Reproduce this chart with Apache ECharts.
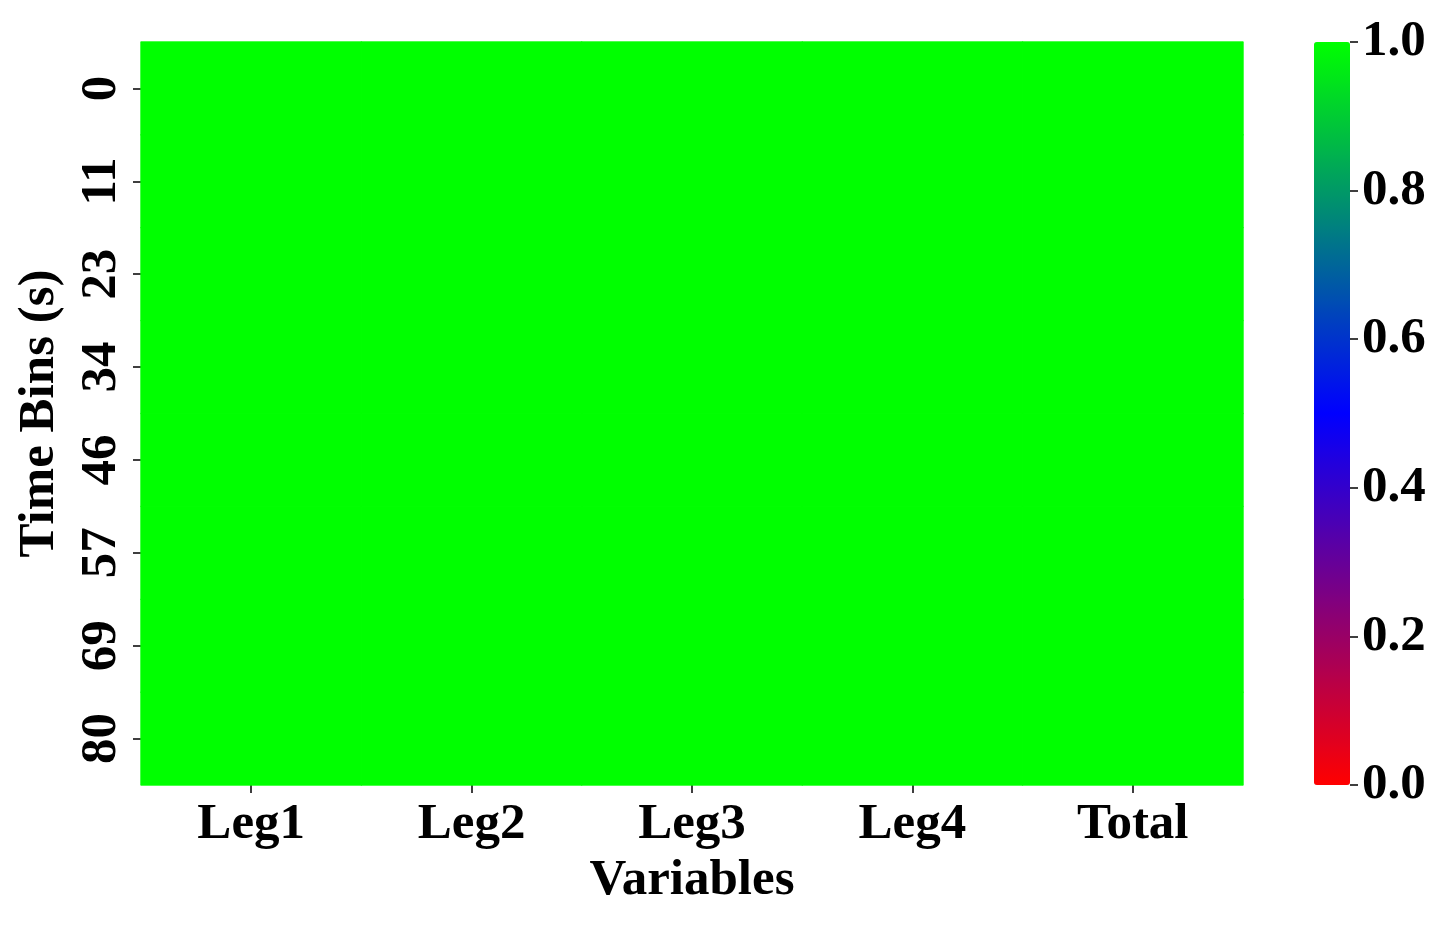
<!DOCTYPE html>
<html>
<head>
<meta charset="utf-8">
<script src="https://cdn.jsdelivr.net/npm/echarts@6/dist/echarts.min.js"></script>
<style>
  html, body { margin: 0; padding: 0; background: #fff; }
  #chart { width: 1435px; height: 926px; }
</style>
</head>
<body>
<div id="chart"></div>
<script>
// 数据
var variables = ['Leg1', 'Leg2', 'Leg3', 'Leg4', 'Total'];
var timeBins = ['0', '11', '23', '34', '46', '57', '69', '80'];
// 每行对应一个时间段，每列对应一个变量
var values = [
  [1.0, 1.0, 1.0, 1.0, 1.0],
  [1.0, 1.0, 1.0, 1.0, 1.0],
  [1.0, 1.0, 1.0, 1.0, 1.0],
  [1.0, 1.0, 1.0, 1.0, 1.0],
  [1.0, 1.0, 1.0, 1.0, 1.0],
  [1.0, 1.0, 1.0, 1.0, 1.0],
  [1.0, 1.0, 1.0, 1.0, 1.0],
  [1.0, 1.0, 1.0, 1.0, 1.0]
];
var colorStops = ['#ff0000', '#0000ff', '#00ff00'];

var cells = [];
for (var r = 0; r < timeBins.length; r++) {
  for (var c = 0; c < variables.length; c++) {
    cells.push([c, r, values[r][c]]);
  }
}

var font = 'Liberation Serif';
var labelStyle = { fontFamily: font, fontWeight: 'bold', fontSize: 51, color: '#000' };

var option = {
  backgroundColor: '#fff',
  animation: false,
  grid: [
    { left: 141, top: 42, width: 1102, height: 743 },
    // 色条刻度用
    { left: 1314, top: 42, width: 36, height: 743 }
  ],
  xAxis: [{
    type: 'category',
    data: variables,
    gridIndex: 0,
    position: 'bottom',
    axisLine: { show: false },
    axisTick: { show: true, alignWithLabel: true, length: 8, lineStyle: { color: '#000', width: 1.5 } },
    axisLabel: Object.assign({ margin: 14 }, labelStyle),
    splitLine: { show: false },
    name: 'Variables',
    nameLocation: 'middle',
    nameGap: 70,
    nameTextStyle: labelStyle
  }, {
    type: 'value',
    gridIndex: 1,
    show: false
  }],
  yAxis: [{
    type: 'category',
    data: timeBins,
    inverse: true,
    gridIndex: 0,
    axisLine: { show: false },
    axisTick: { show: true, alignWithLabel: true, length: 8, lineStyle: { color: '#000', width: 1.5 } },
    axisLabel: Object.assign({ rotate: 90, margin: 14 }, labelStyle),
    splitLine: { show: false },
    name: 'Time Bins (s)',
    nameLocation: 'middle',
    nameGap: 76,
    nameRotate: 90,
    nameTextStyle: labelStyle
  }, {
    type: 'value',
    gridIndex: 1,
    position: 'right',
    min: 0,
    max: 1,
    interval: 0.2,
    axisLine: { show: false, onZero: false },
    axisTick: { show: true, length: 8, lineStyle: { color: '#000', width: 1.5 } },
    axisLabel: Object.assign({
      margin: 12,
      formatter: function (v) { return v.toFixed(1); }
    }, labelStyle),
    splitLine: { show: false }
  }],
  visualMap: {
    type: 'continuous',
    min: 0,
    max: 1,
    seriesIndex: 0,
    calculable: false,
    left: 1314,
    top: 42,
    padding: 0,
    itemWidth: 36,
    itemHeight: 743,
    text: null,
    showLabel: false,
    inRange: { color: colorStops }
  },
  series: [{
    type: 'heatmap',
    xAxisIndex: 0,
    yAxisIndex: 0,
    data: cells,
    itemStyle: { borderWidth: 0.8, borderColor: '#00ff00' },
    emphasis: { disabled: true }
  }]
};

var chart = echarts.init(document.getElementById('chart'));
chart.setOption(option);
</script>
</body>
</html>
